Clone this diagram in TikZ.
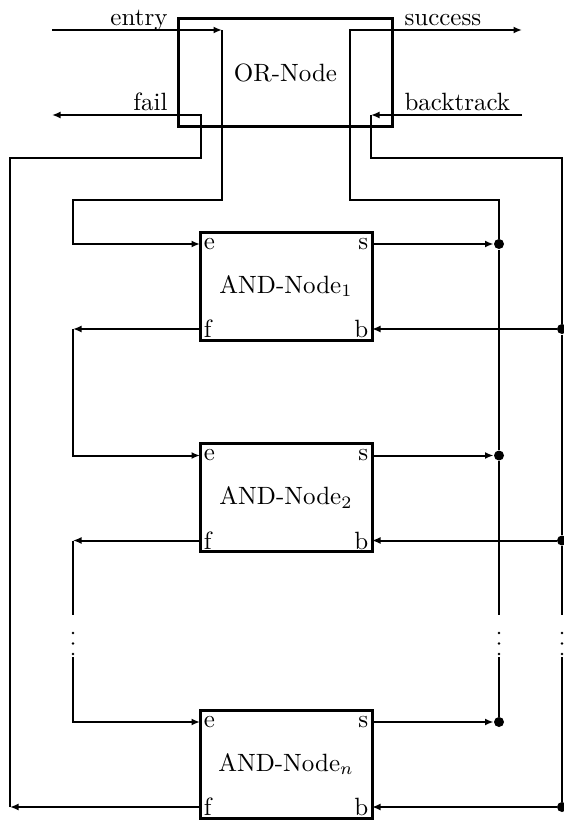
\documentclass[tikz,border=0pt]{standalone}
\usetikzlibrary{arrows.meta,calc}
\begin{document}
\begin{tikzpicture}[x=0.4pt,y=-0.4pt,
  conn/.style={line width=0.8pt},
  arr/.style={conn,-{Latex[length=3.4pt,width=2.8pt]}},
  andbox/.style={draw,line width=1.2pt,minimum width=68.8pt,minimum height=43.2pt,inner sep=0pt},
  orbox/.style={draw,line width=1.2pt,minimum width=85.8pt,minimum height=43.1pt,inner sep=0pt},
  port/.style={inner sep=1.3pt},
  lab/.style={inner sep=0pt},
  bigdot/.style={circle,fill,inner sep=0pt,minimum size=4pt},
  smalldot/.style={circle,fill,inner sep=0pt,minimum size=1pt}]
\useasboundingbox (0,0) rectangle (563,820);

% OR node
\node[orbox] (or) at (285.5,72.85) {OR-Node};

% corner / end coordinates
\coordinate (entryS) at (52,30);
\coordinate (entryC) at (222,30);
\coordinate (succC) at (350,30);
\coordinate (succE) at (522,30);
\coordinate (failS) at (52,115);
\coordinate (failK) at (201,158);
\coordinate (btS) at (522,115);
\coordinate (btC) at (371,115);
\coordinate (btK) at (371,158);
\coordinate (jl) at (73,200);
\coordinate (jr) at (499,200);

% labels
\node[lab,anchor=base east] (tentry) at (168,25.5) {entry};
\node[lab,anchor=base east] (tfail) at (168,110.5) {fail};
\node[lab,anchor=base west] (tsucc) at (404,25.5) {success};
\node[lab,anchor=base west] (tbt) at (404,110.5) {backtrack};

% AND nodes with ports
\foreach \i/\cy/\ey/\fy in {1/286/244/329, 2/497.5/455.5/540.5, n/764/722/807}{
  \node[andbox] (a\i) at (286,\cy) {AND-Node$_{\i}$};
  \coordinate (e\i) at (200,\ey);
  \coordinate (s\i) at (372,\ey);
  \coordinate (f\i) at (200,\fy);
  \coordinate (b\i) at (372,\fy);
  \node[port,anchor=west] (pe\i) at (e\i) {e};
  \node[port,anchor=east] (ps\i) at (s\i) {s};
  \node[port,anchor=west] (pf\i) at (f\i) {f};
  \node[port,anchor=east] (pb\i) at (b\i) {b};
  \node[bigdot] (ds\i) at (499,\ey) {};
  \node[bigdot] (db\i) at (562,\fy) {};
  \draw[arr] (s\i) -- (ds\i);
  \draw[arr] (db\i) -- (b\i);
}

% gap coordinates and vertical dots
\foreach \x/\nm in {73/L,499/R,562/B}{
  \coordinate (gt\nm) at (\x,615);
  \coordinate (gb\nm) at (\x,657);
  \foreach \yy in {633,643.5,654}{
    \fill (\x,\yy) circle[radius=0.55pt];
  }
}
\coordinate (l1) at (73,329);
\coordinate (l2) at (73,540.5);
\coordinate (lb) at (10,807);

% entry path
\draw[arr] (entryS) -- (entryC);
\draw[arr] (entryC) |- (jl) |- (e1);
\draw[arr] (f1) -- (l1);
\draw[arr] (l1) |- (e2);
\draw[arr] (f2) -- (l2);
\draw[conn] (l2) -- (gtL);
\draw[arr] (gbL) |- (en);

% fail path
\draw[arr] (fn) -- (lb);
\draw[arr] (lb) |- (failK) |- (failS);

% success path
\draw[arr] (ds1) -- (jr) -| (succC) -- (succE);
\draw[conn] (ds1) -- (ds2);
\draw[conn] (ds2) -- (gtR);
\draw[conn] (gbR) -- (dsn);

% backtrack path
\draw[arr] (btS) -- (btC);
\draw[conn] (btC) -- (btK) -| (db1);
\draw[conn] (db1) -- (db2);
\draw[conn] (db2) -- (gtB);
\draw[conn] (gbB) -- (dbn);
\end{tikzpicture}
\end{document}
